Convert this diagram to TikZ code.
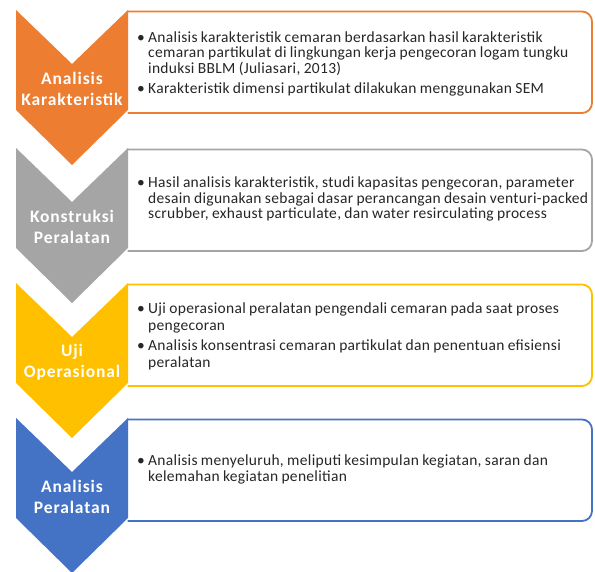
\documentclass[tikz,border=0pt]{standalone}
\usepackage{fontspec}
\setmainfont{Carlito}
\definecolor{stOrange}{HTML}{ED7D31}
\definecolor{stGray}{HTML}{A5A5A5}
\definecolor{stYellow}{HTML}{FFC000}
\definecolor{stBlue}{HTML}{4472C4}
\definecolor{bodyInk}{HTML}{262626}

% one bullet paragraph with a hanging indent
\newcommand\bitem[1]{\par\hangindent=11pt\hangafter=1\noindent\hbox to 11pt{\textbullet\hfil}#1\par}

% #1 top y, #2 colour, #3 name, #4 chevron label, #5 body, #6 line spacing, #7 bullet gap
\newcommand\flowstage[7]{%
  % text box, open on its left where it meets the chevron
  \begin{scope}
    \clip (127.5,#1-5) rectangle (600,#1+110);
    \draw[stagebox, draw=#2] (100,#1+1.5) rectangle (592,#1+103);
  \end{scope}
  \fill[#2] (16,#1) -- (72,#1+54) -- (128,#1) -- (128,#1+100)
            -- (72,#1+155) -- (16,#1+100) -- cycle;
  \node[stagelabel] (#3-label) at (72,#1+79) {#4};
  \node[stagebody, anchor=west] (#3-body) at (137,#1+49)
    {\fontsize{15.5pt}{#6}\selectfont\addfontfeature{LetterSpace=2.0}\parskip=#7 #5};
}

\begin{document}
\begin{tikzpicture}[x=1pt,y=-1pt,
  stagebox/.style={line width=1.8pt, fill=white, rounded corners=10pt},
  stagelabel/.style={text=white, align=center, inner sep=0pt,
    font=\fontsize{17.5pt}{20.5pt}\selectfont\bfseries\addfontfeature{LetterSpace=5.0}},
  stagebody/.style={text=bodyInk, text width=455pt, align=left, inner sep=0pt}]
\useasboundingbox (0,0) rectangle (595,572);

\flowstage{10}{stOrange}{karakter}{Analisis\\Karakteristik}{%
  \bitem{Analisis karakteristik cemaran berdasarkan hasil karakteristik\newline
    cemaran partikulat di lingkungan kerja pengecoran logam tungku\newline
    induksi BBLM (Juliasari, 2013)}%
  \bitem{Karakteristik dimensi partikulat dilakukan menggunakan SEM}}{15.5pt}{4.5pt}

\flowstage{148}{stGray}{konstruksi}{Konstruksi\\Peralatan}{%
  \bitem{Hasil analisis karakteristik, studi kapasitas pengecoran, parameter\newline
    desain digunakan sebagai dasar perancangan desain venturi-packed\newline
    scrubber, exhaust particulate, dan water resirculating process}}{15.5pt}{0pt}

\flowstage{283}{stYellow}{uji}{Uji\\Operasional}{%
  \bitem{Uji operasional peralatan pengendali cemaran pada saat proses\newline
    pengecoran}%
  \bitem{Analisis konsentrasi cemaran partikulat dan penentuan efisiensi\newline
    peralatan}}{17pt}{2.5pt}

\flowstage{418}{stBlue}{analisis}{Analisis\\Peralatan}{%
  \bitem{Analisis menyeluruh, meliputi kesimpulan kegiatan, saran dan\newline
    kelemahan kegiatan penelitian}}{16pt}{0pt}
\end{tikzpicture}
\end{document}
